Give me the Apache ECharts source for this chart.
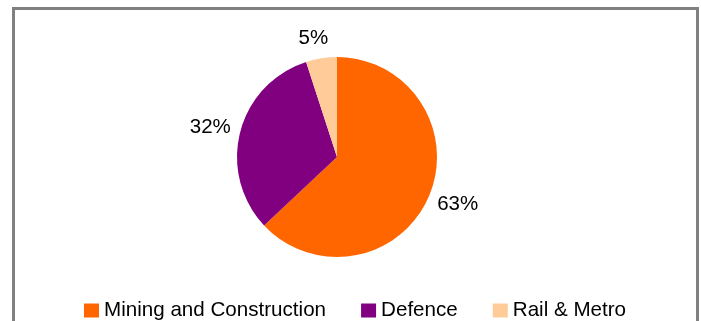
<!DOCTYPE html>
<html>
<head>
<meta charset="utf-8">
<script src="https://cdn.jsdelivr.net/npm/echarts@6/dist/echarts.min.js"></script>
<style>
  html, body { margin: 0; padding: 0; background: #fff; }
  #chart { width: 701px; height: 321px; }
</style>
</head>
<body>
<div id="chart"></div>
<script>
const categories = ['Mining and Construction', 'Defence', 'Rail & Metro']
const shares = [63, 32, 5]
const colors = ['#FF6600', '#800080', '#FFCC99']

const chart = echarts.init(document.getElementById('chart'))
const font = 'Liberation Sans, Arial, sans-serif'

chart.setOption({
  backgroundColor: '#fff',
  animation: false,
  graphic: [
    {
      // chart area frame (bottom edge is off-canvas)
      type: 'rect',
      shape: { x: 13.5, y: 8.5, width: 684, height: 340 },
      style: { fill: 'none', stroke: '#808080', lineWidth: 3 },
      z: 0,
    },
  ],
  legend: {
    left: 79,
    top: 295,
    icon: 'rect',
    itemWidth: 15,
    itemHeight: 14,
    itemGap: 35,
    textStyle: { fontFamily: font, fontSize: 20.6, color: '#000' },
    data: categories,
  },
  series: [
    {
      type: 'pie',
      center: [337, 157],
      radius: [0, 100],
      startAngle: 90,
      clockwise: true,
      avoidLabelOverlap: false,
      silent: true,
      label: {
        show: true,
        position: 'outside',
        formatter: '{c}%',
        fontFamily: font,
        fontSize: 20.5,
        color: '#000',
        distanceToLabelLine: -10,
      },
      labelLine: { show: false, length: 20, length2: 0 },
      itemStyle: { borderWidth: 0 },
      data: categories.map((name, i) => ({
        name,
        value: shares[i],
        itemStyle: { color: colors[i] },
      })),
    },
  ],
})
</script>
</body>
</html>
